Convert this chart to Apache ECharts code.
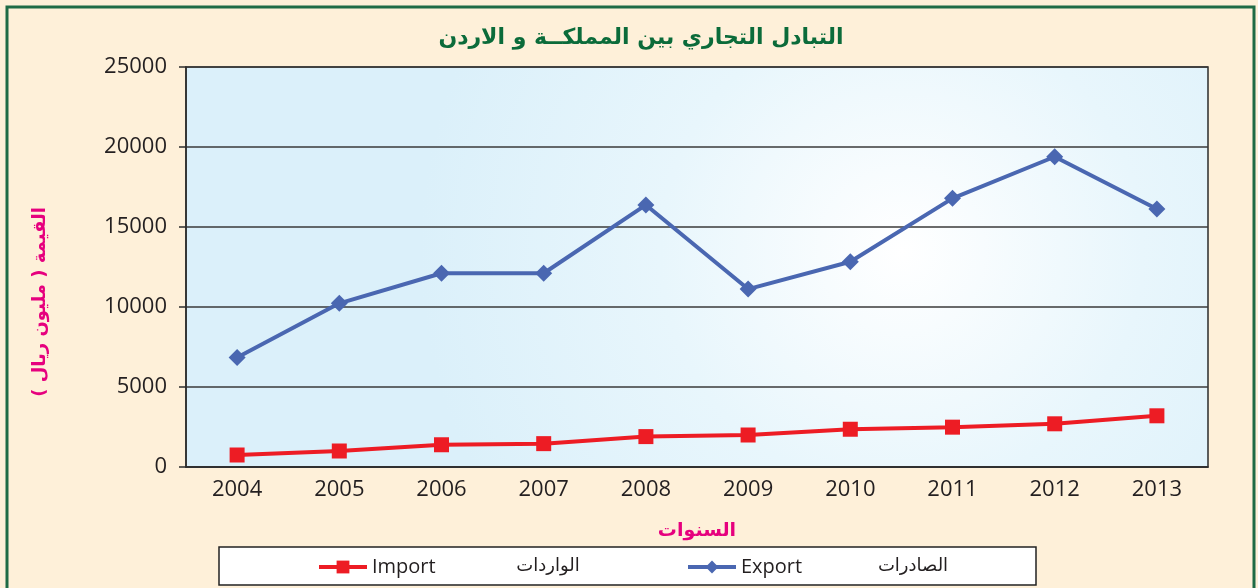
<!DOCTYPE html>
<html>
<head>
<meta charset="utf-8">
<script src="https://cdn.jsdelivr.net/npm/echarts@6/dist/echarts.min.js"></script>
<style>
  html, body { margin: 0; padding: 0; background: #fef0d9; }
  #chart { width: 1258px; height: 588px; }
</style>
</head>
<body>
<div id="chart"></div>
<script>
// السنوات
const years = ["2004", "2005", "2006", "2007", "2008", "2009", "2010", "2011", "2012", "2013"];
// الصادرات (مليون ريال)
const exportVals = [6850, 10230, 12110, 12110, 16380, 11120, 12830, 16790, 19390, 16130];
// الواردات (مليون ريال)
const importVals = [750, 1000, 1390, 1460, 1900, 2000, 2360, 2490, 2700, 3200];

const chart = echarts.init(document.getElementById("chart"));
const FONT = "'Open Sans', 'DejaVu Sans', sans-serif";
const AR = "'DejaVu Sans', sans-serif";

const legendBase = {
  top: 552,
  itemWidth: 48,
  itemHeight: 16,
  lineStyle: { width: 4 },
  textStyle: { fontFamily: FONT, fontSize: 20, color: "#231f20" },
};

const option = {
  backgroundColor: "#fef0d9",
  animation: false,
  grid: {
    left: 186,
    right: 50,
    top: 67,
    bottom: 121,
    show: true,
    borderColor: "#2b2b2b",
    borderWidth: 1.5,
    // الخلفية المتدرجة للرسم
    backgroundColor: new echarts.graphic.RadialGradient(0.7, 0.46, 1.2, [
      { offset: 0, color: "#ffffff" },
      { offset: 0.5, color: "#e8f6fc" },
      { offset: 1, color: "#dbf0fa" },
    ]),
  },
  xAxis: {
    type: "category",
    data: years,
    boundaryGap: true,
    name: "السنوات",
    nameLocation: "middle",
    nameGap: 55,
    nameTextStyle: { fontFamily: AR, fontSize: 19, fontWeight: "bold", color: "#e6007e" },
    axisLine: { lineStyle: { color: "#2b2b2b", width: 1.5 } },
    axisTick: { length: 7, lineStyle: { color: "#2b2b2b", width: 1.5 } },
    axisLabel: { margin: 12, fontFamily: FONT, fontSize: 22, color: "#231f20" },
  },
  yAxis: {
    type: "value",
    min: 0,
    max: 25000,
    interval: 5000,
    axisLine: { show: true, lineStyle: { color: "#2b2b2b", width: 1.5 } },
    axisTick: { show: true, length: 7, lineStyle: { color: "#2b2b2b", width: 1.5 } },
    axisLabel: {
      margin: 19,
      fontFamily: FONT,
      fontSize: 22,
      color: "#231f20",
      formatter: (v) => String(v),
    },
    splitLine: { lineStyle: { color: "#3a3a3a", width: 1.5 } },
  },
  legend: [
    Object.assign({ data: ["Import"], left: 312 }, legendBase),
    Object.assign({ data: ["Export"], left: 681 }, legendBase),
  ],
  graphic: [
    // الاطار الخارجي
    {
      type: "rect",
      z: -1,
      shape: { x: 7, y: 7, width: 1247, height: 620 },
      style: { fill: "none", stroke: "#1e6b46", lineWidth: 3 },
    },
    // صندوق المفتاح
    {
      type: "rect",
      z: -1,
      shape: { x: 219, y: 547, width: 817, height: 38 },
      style: { fill: "#ffffff", stroke: "#222", lineWidth: 1.5 },
    },
    {
      type: "text",
      x: 641,
      y: 38,
      style: {
        text: "التبادل التجاري بين المملكــة و الاردن",
        fontFamily: AR,
        fontSize: 22,
        fontWeight: "bold",
        fill: "#0b6b3a",
        textAlign: "center",
        textVerticalAlign: "middle",
      },
    },
    {
      type: "text",
      x: 40,
      y: 302,
      rotation: Math.PI / 2,
      style: {
        text: "القيمة ( مليون ريال )",
        fontFamily: AR,
        fontSize: 18,
        fontWeight: "bold",
        fill: "#e6007e",
        textAlign: "center",
        textVerticalAlign: "middle",
      },
    },
    {
      type: "text",
      x: 548,
      y: 566,
      style: {
        text: "الواردات",
        fontFamily: AR,
        fontSize: 18,
        fill: "#231f20",
        textAlign: "center",
        textVerticalAlign: "middle",
      },
    },
    {
      type: "text",
      x: 913,
      y: 566,
      style: {
        text: "الصادرات",
        fontFamily: AR,
        fontSize: 18,
        fill: "#231f20",
        textAlign: "center",
        textVerticalAlign: "middle",
      },
    },
  ],
  series: [
    {
      name: "Import",
      type: "line",
      data: importVals,
      symbol: "rect",
      symbolSize: 15,
      color: "#ed1c24",
      lineStyle: { width: 4, color: "#ed1c24" },
      itemStyle: { color: "#ed1c24" },
    },
    {
      name: "Export",
      type: "line",
      data: exportVals,
      symbol: "diamond",
      symbolSize: 17,
      color: "#4a67b1",
      lineStyle: { width: 4, color: "#4a67b1" },
      itemStyle: { color: "#4a67b1" },
    },
  ],
};
chart.setOption(option);
</script>
</body>
</html>
